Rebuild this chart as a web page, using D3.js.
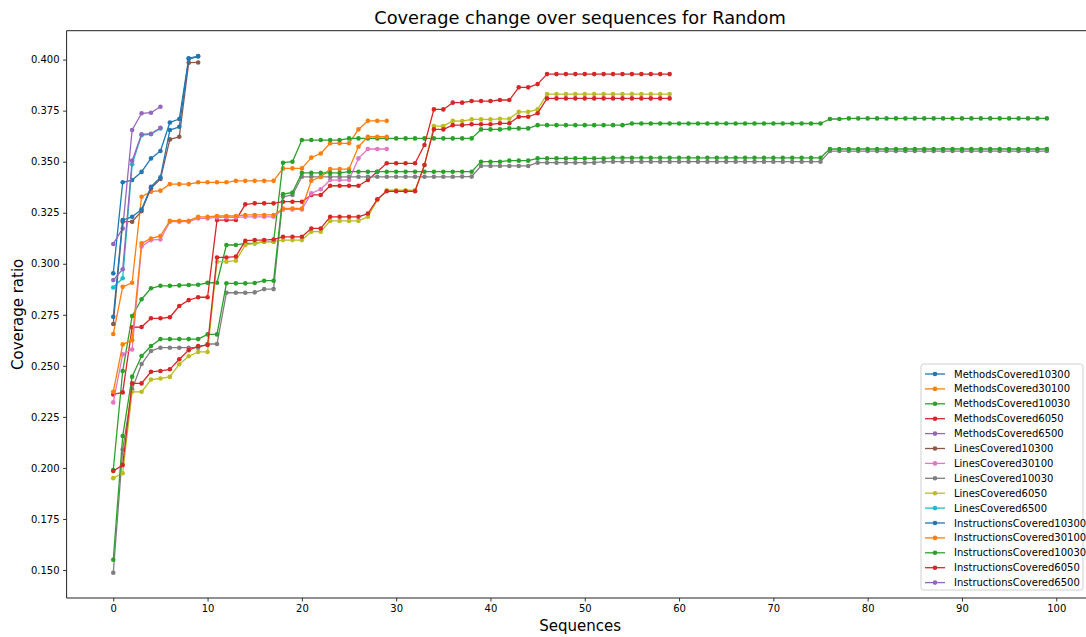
<!DOCTYPE html>
<html>
<head>
<meta charset="utf-8">
<script src="https://cdn.jsdelivr.net/npm/d3@7"></script>
<style>
  html, body { margin: 0; padding: 0; background: #fff; overflow: hidden; }
  svg { display: block; font-family: "DejaVu Sans", sans-serif; }
</style>
</head>
<body>
<svg id="chart" width="1086" height="637"></svg>
<script>
// ---------- data ----------
const seriesNames = [
  "MethodsCovered10300", "MethodsCovered30100", "MethodsCovered10030", "MethodsCovered6050", "MethodsCovered6500",
  "LinesCovered10300", "LinesCovered30100", "LinesCovered10030", "LinesCovered6050", "LinesCovered6500",
  "InstructionsCovered10300", "InstructionsCovered30100", "InstructionsCovered10030", "InstructionsCovered6050", "InstructionsCovered6500"
];

const methods10300 = [0.2953, 0.3399, 0.3410, 0.3450, 0.3516, 0.3552, 0.3692, 0.3709, 0.4006, 0.4017];
const methods30100 = [0.2656, 0.2887, 0.2907, 0.3328, 0.3353, 0.3358, 0.3390, 0.3390, 0.3390, 0.3399,
  0.3399, 0.3399, 0.3399, 0.3406, 0.3406, 0.3406, 0.3406, 0.3406, 0.3467, 0.3467,
  0.3467, 0.3520, 0.3540, 0.3590, 0.3590, 0.3590, 0.3658, 0.3700, 0.3700, 0.3700];
const methods10030 = [0.1990, 0.2475, 0.2744, 0.2826, 0.2880, 0.2892, 0.2892, 0.2894, 0.2896, 0.2897,
  0.2907, 0.2907, 0.3092, 0.3092, 0.3100, 0.3100, 0.3108, 0.3108, 0.3495, 0.3500,
  0.3606, 0.3606, 0.3606, 0.3606, 0.3606, 0.3614, 0.3614, 0.3614, 0.3614, 0.3614,
  0.3614, 0.3614, 0.3614, 0.3614, 0.3614, 0.3614, 0.3614, 0.3614, 0.3614, 0.3658,
  0.3658, 0.3658, 0.3663, 0.3663, 0.3663, 0.3679, 0.3679, 0.3679, 0.3679, 0.3679,
  0.3679, 0.3679, 0.3679, 0.3679, 0.3679, 0.3687, 0.3687, 0.3687, 0.3687, 0.3687,
  0.3687, 0.3687, 0.3687, 0.3687, 0.3687, 0.3687, 0.3687, 0.3687, 0.3687, 0.3687,
  0.3687, 0.3687, 0.3687, 0.3687, 0.3687, 0.3687, 0.3709, 0.3709, 0.3712, 0.3712,
  0.3712, 0.3712, 0.3712, 0.3712, 0.3712, 0.3712, 0.3712, 0.3712, 0.3712, 0.3712,
  0.3712, 0.3712, 0.3712, 0.3712, 0.3712, 0.3712, 0.3712, 0.3712, 0.3712, 0.3712];
const methods6050 = [0.2360, 0.2370, 0.2689, 0.2690, 0.2733, 0.2733, 0.2738, 0.2793, 0.2822, 0.2836,
  0.2836, 0.3214, 0.3214, 0.3214, 0.3291, 0.3296, 0.3296, 0.3296, 0.3304, 0.3304,
  0.3304, 0.3337, 0.3337, 0.3382, 0.3382, 0.3382, 0.3382, 0.3410, 0.3451, 0.3492,
  0.3492, 0.3492, 0.3492, 0.3582, 0.3756, 0.3756, 0.3789, 0.3789, 0.3797, 0.3797,
  0.3797, 0.3802, 0.3802, 0.3864, 0.3864, 0.3880, 0.3929, 0.3929, 0.3929, 0.3929,
  0.3929, 0.3929, 0.3929, 0.3929, 0.3929, 0.3929, 0.3929, 0.3929, 0.3929, 0.3929];
const methods6500 = [0.3097, 0.3173, 0.3655, 0.3737, 0.3740, 0.3769];

const lines10300 = [0.2705, 0.3206, 0.3206, 0.3258, 0.3370, 0.3415, 0.3609, 0.3622, 0.3985, 0.3986];
const lines30100 = [0.2321, 0.2556, 0.2580, 0.3084, 0.3116, 0.3119, 0.3206, 0.3206, 0.3206, 0.3222,
  0.3222, 0.3227, 0.3227, 0.3227, 0.3230, 0.3230, 0.3230, 0.3230, 0.3266, 0.3266,
  0.3266, 0.3345, 0.3365, 0.3410, 0.3410, 0.3410, 0.3516, 0.3562, 0.3562, 0.3562];
const lines10030 = [0.1487, 0.2090, 0.2385, 0.2509, 0.2573, 0.2589, 0.2589, 0.2589, 0.2589, 0.2589,
  0.2607, 0.2607, 0.2858, 0.2858, 0.2858, 0.2860, 0.2876, 0.2876, 0.3328, 0.3337,
  0.3426, 0.3426, 0.3426, 0.3426, 0.3426, 0.3426, 0.3426, 0.3426, 0.3426, 0.3426,
  0.3426, 0.3426, 0.3426, 0.3426, 0.3426, 0.3426, 0.3426, 0.3427, 0.3427, 0.3479,
  0.3479, 0.3479, 0.3479, 0.3479, 0.3479, 0.3495, 0.3495, 0.3495, 0.3495, 0.3495,
  0.3495, 0.3495, 0.3500, 0.3500, 0.3500, 0.3500, 0.3500, 0.3500, 0.3500, 0.3500,
  0.3500, 0.3500, 0.3500, 0.3500, 0.3500, 0.3500, 0.3500, 0.3500, 0.3500, 0.3500,
  0.3500, 0.3500, 0.3500, 0.3500, 0.3500, 0.3500, 0.3552, 0.3552, 0.3552, 0.3552,
  0.3552, 0.3552, 0.3552, 0.3552, 0.3552, 0.3552, 0.3552, 0.3552, 0.3552, 0.3552,
  0.3552, 0.3552, 0.3552, 0.3552, 0.3552, 0.3552, 0.3552, 0.3552, 0.3552, 0.3552];
const lines6050 = [0.1950, 0.1974, 0.2373, 0.2373, 0.2433, 0.2438, 0.2446, 0.2508, 0.2547, 0.2568,
  0.2568, 0.3010, 0.3010, 0.3015, 0.3092, 0.3100, 0.3108, 0.3108, 0.3116, 0.3116,
  0.3116, 0.3157, 0.3157, 0.3210, 0.3210, 0.3210, 0.3210, 0.3230, 0.3312, 0.3360,
  0.3360, 0.3360, 0.3360, 0.3484, 0.3674, 0.3674, 0.3700, 0.3699, 0.3707, 0.3707,
  0.3707, 0.3710, 0.3710, 0.3744, 0.3744, 0.3756, 0.3831, 0.3831, 0.3831, 0.3831,
  0.3831, 0.3831, 0.3831, 0.3831, 0.3831, 0.3831, 0.3831, 0.3831, 0.3831, 0.3831];
const lines6500 = [0.2884, 0.2929, 0.3487, 0.3630, 0.3634, 0.3663];

const instructions10300 = [0.2740, 0.3214, 0.3230, 0.3266, 0.3377, 0.3423, 0.3655, 0.3671, 0.4004, 0.4015];
const instructions30100 = [0.2373, 0.2605, 0.2626, 0.3100, 0.3124, 0.3136, 0.3211, 0.3211, 0.3211, 0.3230,
  0.3230, 0.3234, 0.3234, 0.3234, 0.3239, 0.3239, 0.3239, 0.3239, 0.3271, 0.3271,
  0.3271, 0.3407, 0.3425, 0.3464, 0.3464, 0.3464, 0.3573, 0.3622, 0.3622, 0.3622];
const instructions10030 = [0.1550, 0.2156, 0.2447, 0.2548, 0.2597, 0.2631, 0.2631, 0.2631, 0.2631, 0.2631,
  0.2654, 0.2654, 0.2904, 0.2904, 0.2904, 0.2906, 0.2917, 0.2917, 0.3341, 0.3349,
  0.3445, 0.3445, 0.3445, 0.3445, 0.3445, 0.3451, 0.3451, 0.3451, 0.3451, 0.3451,
  0.3451, 0.3451, 0.3451, 0.3451, 0.3451, 0.3451, 0.3451, 0.3451, 0.3451, 0.3500,
  0.3500, 0.3500, 0.3505, 0.3505, 0.3505, 0.3516, 0.3516, 0.3516, 0.3516, 0.3516,
  0.3516, 0.3516, 0.3516, 0.3519, 0.3519, 0.3519, 0.3519, 0.3519, 0.3519, 0.3519,
  0.3519, 0.3519, 0.3519, 0.3519, 0.3519, 0.3519, 0.3519, 0.3519, 0.3519, 0.3519,
  0.3519, 0.3519, 0.3519, 0.3519, 0.3519, 0.3519, 0.3562, 0.3562, 0.3562, 0.3562,
  0.3562, 0.3562, 0.3562, 0.3562, 0.3562, 0.3562, 0.3562, 0.3562, 0.3562, 0.3562,
  0.3562, 0.3562, 0.3562, 0.3562, 0.3562, 0.3562, 0.3562, 0.3562, 0.3562, 0.3562];
const instructions6050 = [0.1985, 0.2014, 0.2414, 0.2414, 0.2471, 0.2475, 0.2483, 0.2532, 0.2577, 0.2597,
  0.2602, 0.3031, 0.3031, 0.3035, 0.3113, 0.3116, 0.3116, 0.3119, 0.3132, 0.3132,
  0.3132, 0.3173, 0.3173, 0.3230, 0.3230, 0.3230, 0.3230, 0.3246, 0.3316, 0.3355,
  0.3355, 0.3355, 0.3355, 0.3484, 0.3658, 0.3658, 0.3679, 0.3679, 0.3683, 0.3683,
  0.3683, 0.3688, 0.3688, 0.3720, 0.3720, 0.3737, 0.3810, 0.3810, 0.3810, 0.3810,
  0.3810, 0.3810, 0.3810, 0.3810, 0.3810, 0.3810, 0.3810, 0.3810, 0.3810, 0.3810];
const instructions6500 = [0.2920, 0.2973, 0.3505, 0.3634, 0.3637, 0.3666];

const xTicks = [0, 10, 20, 30, 40, 50, 60, 70, 80, 90, 100];
const yTicks = [0.150, 0.175, 0.200, 0.225, 0.250, 0.275, 0.300, 0.325, 0.350, 0.375, 0.400];

const titleText = "Coverage change over sequences for Random";
const xLabelText = "Sequences";
const yLabelText = "Coverage ratio";

const palette = ["#1f77b4", "#ff7f0e", "#2ca02c", "#d62728", "#9467bd",
                 "#8c564b", "#e377c2", "#7f7f7f", "#bcbd22", "#17becf"];

const seriesValues = [methods10300, methods30100, methods10030, methods6050, methods6500,
  lines10300, lines30100, lines10030, lines6050, lines6500,
  instructions10300, instructions30100, instructions10030, instructions6050, instructions6500];

const series = seriesNames.map((name, i) => ({
  name, values: seriesValues[i], color: palette[i % 10]
}));

// ---------- layout ----------
const svg = d3.select("#chart");
const plot = { left: 66.6, right: 1093.5, top: 30.7, bottom: 598 };

const x = d3.scaleLinear().domain([-4.95, 103.95]).range([plot.left, plot.right]);
const y = d3.scaleLinear().domain([0.13630, 0.41415]).range([plot.bottom, plot.top]);

svg.append("rect").attr("width", 1086).attr("height", 637).attr("fill", "#fff");

// axes
const xAxis = d3.axisBottom(x).tickValues(xTicks).tickFormat(d3.format("d")).tickSize(3.5).tickPadding(3.5);
const yAxis = d3.axisLeft(y).tickValues(yTicks).tickFormat(d3.format(".3f")).tickSize(3.5).tickPadding(3.5);

const gx = svg.append("g").attr("transform", `translate(0,${plot.bottom})`).call(xAxis);
const gy = svg.append("g").attr("transform", `translate(${plot.left},0)`).call(yAxis);
[gx, gy].forEach(g => {
  g.select(".domain").remove();
  g.selectAll(".tick line").attr("stroke", "#000").attr("stroke-width", 0.8);
  g.selectAll(".tick text").attr("fill", "#000").style("font-size", "10px")
    .style("font-family", "DejaVu Sans, sans-serif");
});

// clip
svg.append("clipPath").attr("id", "clip").append("rect")
  .attr("x", plot.left).attr("y", plot.top)
  .attr("width", plot.right - plot.left).attr("height", plot.bottom - plot.top);

const lineGen = d3.line().x((d, i) => x(i)).y(d => y(d));

const gData = svg.append("g").attr("clip-path", "url(#clip)");
series.forEach(s => {
  const g = gData.append("g");
  g.append("path").datum(s.values)
    .attr("d", lineGen)
    .attr("fill", "none")
    .attr("stroke", s.color)
    .attr("stroke-width", 1.3)
    .attr("stroke-linejoin", "round");
  g.selectAll("circle").data(s.values).join("circle")
    .attr("cx", (d, i) => x(i))
    .attr("cy", d => y(d))
    .attr("r", 2.3)
    .attr("fill", s.color);
});

// spines
const spine = svg.append("g").attr("stroke", "#222").attr("stroke-width", 1).attr("fill", "none");
spine.append("line").attr("x1", plot.left).attr("x2", plot.right).attr("y1", plot.top).attr("y2", plot.top);
spine.append("line").attr("x1", plot.left).attr("x2", plot.right).attr("y1", plot.bottom).attr("y2", plot.bottom);
spine.append("line").attr("x1", plot.left).attr("x2", plot.left).attr("y1", plot.top).attr("y2", plot.bottom);
spine.append("line").attr("x1", plot.right).attr("x2", plot.right).attr("y1", plot.top).attr("y2", plot.bottom);

// titles
const cx = (plot.left + plot.right) / 2;
svg.append("text").attr("x", cx).attr("y", 24).attr("text-anchor", "middle")
  .style("font-size", "17.8px").attr("fill", "#000").text(titleText);
svg.append("text").attr("x", cx).attr("y", 631).attr("text-anchor", "middle")
  .style("font-size", "15px").attr("fill", "#000").text(xLabelText);
svg.append("text").attr("transform", `translate(23,${(plot.top + plot.bottom) / 2}) rotate(-90)`)
  .attr("text-anchor", "middle").style("font-size", "15px").attr("fill", "#000").text(yLabelText);

// legend
const lg = svg.append("g").attr("transform", "translate(921,364)");
lg.append("rect").attr("width", 162).attr("height", 226).attr("rx", 2.5)
  .attr("fill", "#fff").attr("fill-opacity", 0.8).attr("stroke", "#d0d0d0").attr("stroke-width", 1);
const rowH = 14.9;
series.forEach((s, i) => {
  const ry = 10 + i * rowH;
  lg.append("line").attr("x1", 4).attr("x2", 24).attr("y1", ry).attr("y2", ry)
    .attr("stroke", s.color).attr("stroke-width", 1.3);
  lg.append("circle").attr("cx", 14).attr("cy", ry).attr("r", 2.3).attr("fill", s.color);
  lg.append("text").attr("x", 33).attr("y", ry).attr("dy", "0.35em")
    .style("font-size", "10px").attr("fill", "#000").text(s.name);
});
</script>
</body>
</html>
